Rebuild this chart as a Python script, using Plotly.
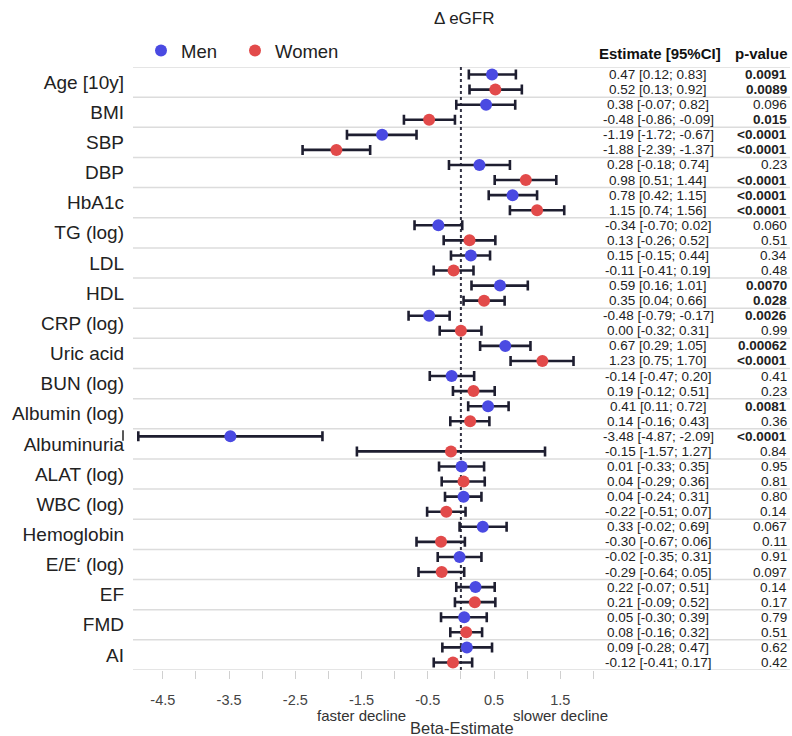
import plotly.graph_objects as go

variables = ["Age [10y]", "BMI", "SBP", "DBP", "HbA1c", "TG (log)", "LDL", "HDL",
             "CRP (log)", "Uric acid", "BUN (log)", "Albumin (log)", "Albuminuria",
             "ALAT (log)", "WBC (log)", "Hemoglobin", "E/E\u2018 (log)", "EF", "FMD", "AI"]

men_est = [0.47, 0.38, -1.19, 0.28, 0.78, -0.34, 0.15, 0.59, -0.48, 0.67, -0.14, 0.41, -3.48,
           0.01, 0.04, 0.33, -0.02, 0.22, 0.05, 0.09]
men_lo = [0.12, -0.07, -1.72, -0.18, 0.42, -0.70, -0.15, 0.16, -0.79, 0.29, -0.47, 0.11, -4.87,
          -0.33, -0.24, -0.02, -0.35, -0.07, -0.30, -0.28]
men_hi = [0.83, 0.82, -0.67, 0.74, 1.15, 0.02, 0.44, 1.01, -0.17, 1.05, 0.20, 0.72, -2.09,
          0.35, 0.31, 0.69, 0.31, 0.51, 0.39, 0.47]
men_p = ["0.0091", "0.096", "<0.0001", "0.23", "<0.0001", "0.060", "0.34", "0.0070", "0.0026",
         "0.00062", "0.41", "0.0081", "<0.0001", "0.95", "0.80", "0.067", "0.91", "0.14", "0.79", "0.62"]

women_est = [0.52, -0.48, -1.88, 0.98, 1.15, 0.13, -0.11, 0.35, 0.00, 1.23, 0.19, 0.14, -0.15,
             0.04, -0.22, -0.30, -0.29, 0.21, 0.08, -0.12]
women_lo = [0.13, -0.86, -2.39, 0.51, 0.74, -0.26, -0.41, 0.04, -0.32, 0.75, -0.12, -0.16, -1.57,
            -0.29, -0.51, -0.67, -0.64, -0.09, -0.16, -0.41]
women_hi = [0.92, -0.09, -1.37, 1.44, 1.56, 0.52, 0.19, 0.66, 0.31, 1.70, 0.51, 0.43, 1.27,
            0.36, 0.07, 0.06, 0.05, 0.52, 0.32, 0.17]
women_p = ["0.0089", "0.015", "<0.0001", "<0.0001", "<0.0001", "0.51", "0.48", "0.028", "0.99",
           "<0.0001", "0.23", "0.36", "0.84", "0.81", "0.14", "0.11", "0.097", "0.17", "0.51", "0.42"]

tick_vals = [-4.5, -3.5, -2.5, -1.5, -0.5, 0.5, 1.5]
tick_text = ["-4.5", "-3.5", "-2.5", "-1.5", "-0.5", "0.5", "1.5"]

W, H = 792, 736
FONT = "Liberation Sans, Arial, sans-serif"
BLUE = "#4a4ae2"
RED = "#e24a4a"
BAR = "#1e1e30"

n = len(variables)
idx = list(range(n))
men_y = [i - 0.25 for i in idx]
women_y = [i + 0.25 for i in idx]


def px_x(p):
    return p / W


def px_y(p):
    return 1 - p / H


fig = go.Figure()
for name, est, lo, hi, ys, col, lg in [("Men", men_est, men_lo, men_hi, men_y, BLUE, "legend"),
                                       ("Women", women_est, women_lo, women_hi, women_y, RED, "legend2")]:
    fig.add_trace(go.Scatter(
        x=est, y=ys, mode="markers", name=name, legend=lg,
        marker=dict(size=12, color=col, line=dict(width=0)),
        error_x=dict(type="data", symmetric=False,
                     array=[h - e for h, e in zip(hi, est)],
                     arrayminus=[e - l for e, l in zip(est, lo)],
                     color=BAR, thickness=2.6, width=5),
        cliponaxis=False,
    ))

shapes = []
# row separators spanning plot and table
for b in range(n + 1):
    shapes.append(dict(type="line", xref="paper", yref="y", x0=px_x(133), x1=px_x(790),
                       y0=b - 0.5, y1=b - 0.5, line=dict(color="#dcdcdc", width=1.5), layer="below"))
# reference line at 0
shapes.append(dict(type="line", xref="x", yref="y", x0=0, x1=0, y0=-0.5, y1=n - 0.5,
                   line=dict(color="#333344", width=2, dash="dot"), layer="below"))
# small stray mark near Albuminuria label
shapes.append(dict(type="line", xref="paper", yref="y", x0=px_x(123), x1=px_x(123),
                   y0=11.55, y1=11.9, line=dict(color="#222222", width=1.5)))

annotations = []
annotations.append(dict(text="\u0394 eGFR", xref="paper", yref="paper", x=px_x(464), y=px_y(18),
                        showarrow=False, font=dict(size=17, color="#222"), xanchor="center", yanchor="middle"))
annotations.append(dict(text="<b>Estimate [95%CI]</b>", xref="paper", yref="paper", x=px_x(660), y=px_y(53),
                        showarrow=False, font=dict(size=15, color="#111"), xanchor="center", yanchor="middle"))
annotations.append(dict(text="<b>p-value</b>", xref="paper", yref="paper", x=px_x(790), y=px_y(53),
                        showarrow=False, font=dict(size=15, color="#111"), xanchor="right", yanchor="middle"))


def pnum(s):
    return 0.00001 if s.startswith("<") else float(s)


for est, lo, hi, ps, ys in [(men_est, men_lo, men_hi, men_p, men_y),
                            (women_est, women_lo, women_hi, women_p, women_y)]:
    for e, l, h, p, yv in zip(est, lo, hi, ps, ys):
        annotations.append(dict(text=f"{e:.2f} [{l:.2f}; {h:.2f}]", xref="paper", yref="y",
                                x=px_x(658), y=yv, showarrow=False, xanchor="center", yanchor="middle",
                                font=dict(size=13.5, color="#222")))
        esc = p.replace('<', '&lt;')
        ptxt = f"<b>{esc}</b>" if pnum(p) < 0.05 else esc
        annotations.append(dict(text=ptxt, xref="paper", yref="y",
                                x=px_x(789), y=yv, showarrow=False, xanchor="right", yanchor="middle",
                                font=dict(size=13.5, color="#222")))

annotations.append(dict(text="faster decline", xref="x", yref="paper", x=-1.5, y=px_y(715),
                        showarrow=False, font=dict(size=15, color="#333"), xanchor="center", yanchor="middle"))
annotations.append(dict(text="slower decline", xref="x", yref="paper", x=1.5, y=px_y(715),
                        showarrow=False, font=dict(size=15, color="#333"), xanchor="center", yanchor="middle"))
annotations.append(dict(text="Beta-Estimate", xref="x", yref="paper", x=0.02, y=px_y(727.5),
                        showarrow=False, font=dict(size=16.5, color="#333"), xanchor="center", yanchor="middle"))

legend_common = dict(orientation="h", yanchor="middle", xanchor="left",
                     font=dict(size=18.5, color="#222"), bgcolor="rgba(0,0,0,0)")

fig.update_layout(
    width=W, height=H,
    margin=dict(l=0, r=0, t=0, b=0),
    paper_bgcolor="white", plot_bgcolor="white",
    font=dict(family=FONT, color="#222"),
    showlegend=True,
    legend=dict(x=px_x(141), y=px_y(51), **legend_common),
    legend2=dict(x=px_x(235), y=px_y(51), **legend_common),
    xaxis=dict(range=[-4.95, 2.05], domain=[px_x(133), px_x(596.7)],
               showgrid=False, zeroline=False, showline=False,
               tickmode="array", tickvals=tick_vals, ticktext=tick_text,
               ticks="outside", ticklen=8, tickcolor="#d0d0d0", tickwidth=1.2,
               minor=dict(ticks="outside", ticklen=8, tickcolor="#d0d0d0", tickwidth=1.2,
                          tickmode="linear", tick0=0, dtick=0.5, showgrid=False),
               tickfont=dict(size=14.5, color="#444"), ticklabelstandoff=9),
    yaxis=dict(range=[n - 0.5, -0.5], domain=[px_y(670), px_y(67)],
               showgrid=False, zeroline=False, showline=False,
               tickmode="array", tickvals=idx, ticktext=variables, ticks="",
               tickfont=dict(size=19, color="#222"), ticklabelstandoff=8),
    shapes=shapes, annotations=annotations,
)

fig.write_html("out.html", config={"displayModeBar": False},
               post_script="document.body.style.margin='0';document.body.style.overflow='hidden';")
